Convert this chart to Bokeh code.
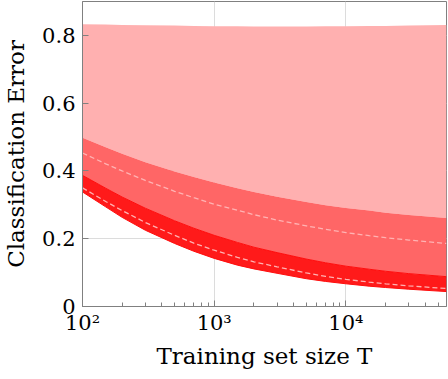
from bokeh.plotting import figure
from bokeh.models import Range1d, FixedTicker
from bokeh.embed import file_html
from bokeh.resources import INLINE

# Training set size T
T = [100, 150, 200, 300, 500, 700, 1000, 1500, 2000, 3000, 5000, 7000,
     10000, 15000, 20000, 30000, 58000]
# band boundaries (classification error)
upper_outer = [0.833, 0.832, 0.831, 0.830, 0.829, 0.828, 0.827, 0.827, 0.826,
               0.826, 0.826, 0.827, 0.827, 0.828, 0.828, 0.829, 0.831]
lower_outer = [0.498, 0.470, 0.451, 0.426, 0.398, 0.382, 0.366, 0.349, 0.338,
               0.324, 0.308, 0.299, 0.291, 0.283, 0.277, 0.270, 0.261]
mean_outer = [0.453, 0.421, 0.400, 0.372, 0.340, 0.321, 0.302, 0.284, 0.271,
              0.255, 0.238, 0.228, 0.218, 0.209, 0.203, 0.196, 0.186]
lower_mid = [0.387, 0.349, 0.323, 0.290, 0.253, 0.231, 0.210, 0.189, 0.175,
             0.159, 0.140, 0.129, 0.119, 0.110, 0.104, 0.097, 0.088]
mean_inner = [0.350, 0.310, 0.283, 0.248, 0.210, 0.187, 0.166, 0.145, 0.132,
              0.117, 0.099, 0.089, 0.080, 0.072, 0.067, 0.061, 0.053]
lower_inner = [0.338, 0.294, 0.263, 0.225, 0.186, 0.163, 0.142, 0.122, 0.111,
               0.098, 0.082, 0.074, 0.067, 0.060, 0.056, 0.051, 0.044]

x_major = [100, 1000, 10000]
x_minor = [m * 10 ** e for e in (2, 3, 4) for m in range(2, 10)]
y_major = [0, 0.2, 0.4, 0.6, 0.8]
x_labels = {100: "10²", 1000: "10³", 10000: "10⁴"}
y_labels = {0: "0", 0.2: "0.2", 0.4: "0.4", 0.6: "0.6", 0.8: "0.8"}

FONT = "DejaVu Serif"
AX = "#808080"

p = figure(width=448, height=379, x_axis_type="log",
           x_range=Range1d(100, 58000), y_range=Range1d(0, 0.9),
           output_backend="svg", toolbar_location=None,
           min_border_left=79, min_border_right=2, min_border_top=1,
           min_border_bottom=73)

p.varea(x=T, y1=lower_outer, y2=upper_outer, fill_color="#ffb0b0")
p.varea(x=T, y1=lower_mid, y2=lower_outer, fill_color="#ff6666")
p.varea(x=T, y1=lower_inner, y2=lower_mid, fill_color="#ff1a1a")
p.line(x=T, y=lower_mid, line_color="#ff0d0d", line_width=1)
p.line(x=T, y=lower_inner, line_color="#ff0d0d", line_width=1)
p.line(x=T, y=mean_outer, line_color="#ffb3b3", line_width=1.3, line_dash="5 3")
p.line(x=T, y=mean_inner, line_color="#ffb3b3", line_width=1.3, line_dash="5 3")

xt = FixedTicker(ticks=x_major, minor_ticks=x_minor)
yt = FixedTicker(ticks=y_major)

bx = p.below[0]
ly = p.left[0]

bx.ticker = xt
bx.major_label_overrides = x_labels
bx.axis_label = "Training set size T"
ly.ticker = yt
ly.major_label_overrides = y_labels
ly.axis_label = "Classification Error"

for ax in (bx, ly):
    ax.axis_line_color = AX
    ax.major_tick_line_color = AX
    ax.minor_tick_line_color = AX
    ax.major_tick_in = 6
    ax.major_tick_out = 0
    ax.minor_tick_in = 4
    ax.minor_tick_out = 0
    ax.major_label_text_font = FONT
    ax.axis_label_text_font = FONT
    ax.axis_label_text_font_style = "normal"
    ax.axis_label_text_color = "black"
    ax.major_label_text_color = "black"
    ax.major_label_text_font_size = "21px"
    ax.axis_label_text_font_size = "23px"

bx.major_label_standoff = 4
ly.major_label_standoff = 7
bx.axis_label_standoff = 5
ly.axis_label_standoff = 10
ly.minor_tick_line_color = None

p.xgrid.ticker = FixedTicker(ticks=x_major)
p.ygrid.ticker = FixedTicker(ticks=y_major)
p.grid.grid_line_color = "#dcdcdc"
p.grid.grid_line_width = 1
p.outline_line_color = AX

open("out.html", "w").write(file_html(p, INLINE))
